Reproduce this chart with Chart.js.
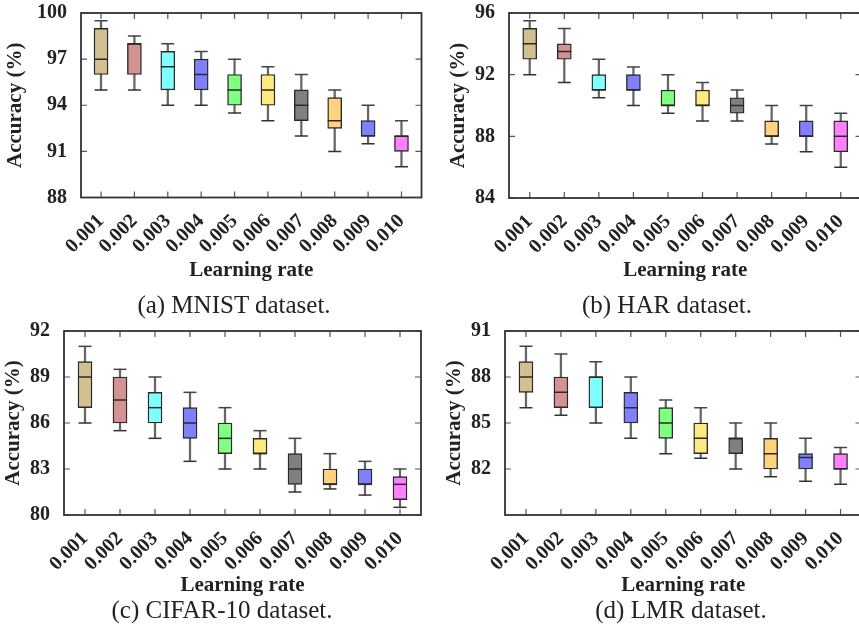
<!DOCTYPE html>
<html>
<head>
<meta charset="utf-8">
<script src="https://cdn.jsdelivr.net/npm/chart.js@4.4.0/dist/chart.umd.min.js"></script>
<style>
  html, body { margin: 0; padding: 0; background: #fff; overflow: hidden; }
  body { width: 859px; height: 625px; position: relative; }
  canvas { position: absolute; }
  .cap { position: absolute; font: 25px "Liberation Serif", serif; color: #222; white-space: nowrap; line-height: 25px; transform: translateX(-50%); }
</style>
</head>
<body>
<canvas id="mnist" width="430" height="290" style="left:0px; top:0px"></canvas>
<canvas id="har" width="440" height="290" style="left:430px; top:0px"></canvas>
<canvas id="cifar" width="430" height="290" style="left:0px; top:318px"></canvas>
<canvas id="lmr" width="440" height="290" style="left:430px; top:318px"></canvas>
<div class="cap" style="left:234px; top:292px">(a) MNIST dataset.</div>
<div class="cap" style="left:667px; top:292px">(b) HAR dataset.</div>
<div class="cap" style="left:222px; top:597px">(c) CIFAR-10 dataset.</div>
<div class="cap" style="left:681px; top:597px">(d) LMR dataset.</div>
<script>
const rates = ['0.001', '0.002', '0.003', '0.004', '0.005', '0.006', '0.007', '0.008', '0.009', '0.010'];
const boxColors = ['#d2c091', '#d49292', '#80ffff', '#8080ff', '#80ff80', '#ffea80', '#808080', '#ffd280', '#8080ff', '#ff80ff'];

// MNIST
const mnistMin = [95, 95, 94, 94, 93.5, 93, 92, 91, 91.5, 90];
const mnistQ1  = [96, 96, 95, 95, 94, 94, 93, 92.5, 92, 91];
const mnistMed = [97, 98, 96.5, 96, 95, 95, 94, 93, 92, 92];
const mnistQ3  = [99, 98, 97.5, 97, 96, 96, 95, 94.5, 93, 92];
const mnistMax = [99.5, 98.5, 98, 97.5, 97, 96.5, 96, 95, 94, 93];
const mnistTicks = [88, 91, 94, 97, 100];

// HAR
const harMin = [92, 91.5, 90.5, 90, 89.5, 89, 89, 87.5, 87, 86];
const harQ1  = [93, 93, 91, 91, 90, 90, 89.5, 88, 88, 87];
const harMed = [94, 93.5, 91, 91, 90, 90, 90, 88, 88, 88];
const harQ3  = [95, 94, 92, 92, 91, 91, 90.5, 89, 89, 89];
const harMax = [95.5, 95, 93, 92.5, 92, 91.5, 91, 90, 90, 89.5];
const harTicks = [84, 88, 92, 96];

// CIFAR-10
const cifarMin = [86, 85.5, 85, 83.5, 83, 83, 81.5, 81.7, 81.3, 80.5];
const cifarQ1  = [87, 86, 86, 85, 84, 84, 82, 82, 82, 81];
const cifarMed = [89, 87.5, 87, 86, 85, 84, 83, 82, 82, 82];
const cifarQ3  = [90, 89, 88, 87, 86, 85, 84, 83, 83, 82.5];
const cifarMax = [91, 89.5, 89, 88, 87, 85.5, 85, 84, 83.5, 83];
const cifarTicks = [80, 83, 86, 89, 92];

// LMR
const lmrMin = [86, 85.5, 85, 84, 83, 82.7, 82, 81.5, 81.2, 81];
const lmrQ1  = [87, 86, 86, 85, 84, 83, 83, 82, 82, 82];
const lmrMed = [88, 87, 88, 86, 85, 84, 84, 83, 82.75, 82];
const lmrQ3  = [89, 88, 88, 87, 86, 85, 84, 84, 83, 83];
const lmrMax = [90, 89.5, 89, 88, 86.5, 86, 85, 85, 84, 83.4];
const lmrTicks = [82, 85, 88, 91];

Chart.defaults.font.family = '"Liberation Serif", "Times New Roman", serif';
Chart.defaults.color = '#222';

// frame with gnuplot style inward ticks on all four sides
const frameTicks = {
    id: 'frameTicks',
    beforeDatasetsDraw(chart) {
        const {ctx, chartArea: a, scales: {x, y}} = chart;
        ctx.save();
        ctx.strokeStyle = '#555';
        ctx.lineWidth = 1.2;
        ctx.beginPath();
        x.ticks.forEach(t => {
            const px = x.getPixelForValue(t.value);
            ctx.moveTo(px, a.bottom); ctx.lineTo(px, a.bottom - 6);
            ctx.moveTo(px, a.top); ctx.lineTo(px, a.top + 6);
        });
        y.ticks.forEach(t => {
            const py = y.getPixelForValue(t.value);
            ctx.moveTo(a.left, py); ctx.lineTo(a.left + 6, py);
            ctx.moveTo(a.right, py); ctx.lineTo(a.right - 6, py);
        });
        ctx.stroke();
        ctx.restore();
    },
    afterDatasetsDraw(chart) {
        const {ctx, chartArea: a} = chart;
        ctx.save();
        ctx.strokeStyle = '#333';
        ctx.lineWidth = 1.8;
        ctx.strokeRect(a.left, a.top, a.right - a.left, a.bottom - a.top);
        ctx.restore();
    }
};

function boxChart(id, lo, q1, med, q3, hi, yMin, yMax, yTicks, lay) {
    const ctx = document.getElementById(id).getContext('2d');
    const at = arr => arr.map((v, i) => ({x: i + 1, y: v}));
    const span = (a, b) => a.map((v, i) => ({x: i + 1, y: [v, b[i]]}));
    const capLine = (data, color, r) => ({
        type: 'line', data: at(data), showLine: false, pointStyle: 'line',
        pointRadius: r, pointBorderColor: color, pointBorderWidth: 1.5, order: 1
    });
    return new Chart(ctx, {
        type: 'bar',
        data: {
            datasets: [
                { data: span(lo, hi), backgroundColor: '#666', barThickness: 1.6, grouped: false, order: 3 },
                { data: span(q1, q3), backgroundColor: boxColors, borderColor: '#2a2a2a', borderWidth: 1.4,
                  borderSkipped: false, barThickness: 14, grouped: false, order: 2 },
                capLine(med, '#2a2a2a', 7),
                capLine(hi, '#444', 6.5),
                capLine(lo, '#333', 6.5)
            ]
        },
        options: {
            responsive: false,
            animation: false,
            layout: { padding: { top: lay.padTop, right: lay.padRight, left: 0, bottom: 0 } },
            plugins: { legend: { display: false }, tooltip: { enabled: false } },
            scales: {
                x: {
                    type: 'linear', min: 0.4, max: 10.6, offset: false,
                    afterBuildTicks: s => { s.ticks = rates.map((r, i) => ({ value: i + 1 })) },
                    afterFit: s => { s.height = lay.xHeight },
                    grid: { display: false }, border: { display: false },
                    ticks: { callback: (v, i) => rates[i], minRotation: 45, maxRotation: 45, autoSkip: false,
                             padding: 4, font: { size: 20, weight: 'bold' } },
                    title: { display: true, text: 'Learning rate', font: { size: 21, weight: 'bold' },
                             padding: { top: 0, bottom: lay.xTitlePad } }
                },
                y: {
                    min: yMin, max: yMax,
                    afterBuildTicks: s => { s.ticks = yTicks.map(v => ({ value: v })) },
                    afterFit: s => { s.width = lay.yWidth },
                    // invisible tick marks give the label gap without adding top padding
                    grid: { display: true, drawOnChartArea: false, drawTicks: true, tickLength: 14, color: 'rgba(0,0,0,0)' },
                    border: { display: false },
                    ticks: { padding: 0, font: { size: 20, weight: 'bold' } },
                    title: { display: true, text: 'Accuracy (%)', font: { size: 21, weight: 'bold' },
                             padding: { top: lay.yTitlePad, bottom: 0 } }
                }
            }
        },
        plugins: [frameTicks]
    });
}

boxChart('mnist', mnistMin, mnistQ1, mnistMed, mnistQ3, mnistMax, 88, 100, mnistTicks,
    { padTop: 13, padRight: 6, yWidth: 81, xHeight: 92.5, xTitlePad: 7, yTitlePad: 3.4 });
boxChart('har', harMin, harQ1, harMed, harQ3, harMax, 84, 96, harTicks,
    { padTop: 13, padRight: 7, yWidth: 79, xHeight: 92, xTitlePad: 7, yTitlePad: 16 });
boxChart('cifar', cifarMin, cifarQ1, cifarMed, cifarQ3, cifarMax, 80, 92, cifarTicks,
    { padTop: 13, padRight: 9, yWidth: 64, xHeight: 93, xTitlePad: 10, yTitlePad: 1.4 });
boxChart('lmr', lmrMin, lmrQ1, lmrMed, lmrQ3, lmrMax, 79, 91, lmrTicks,
    { padTop: 13, padRight: 8, yWidth: 75, xHeight: 93, xTitlePad: 10, yTitlePad: 12 });
</script>
</body>
</html>
